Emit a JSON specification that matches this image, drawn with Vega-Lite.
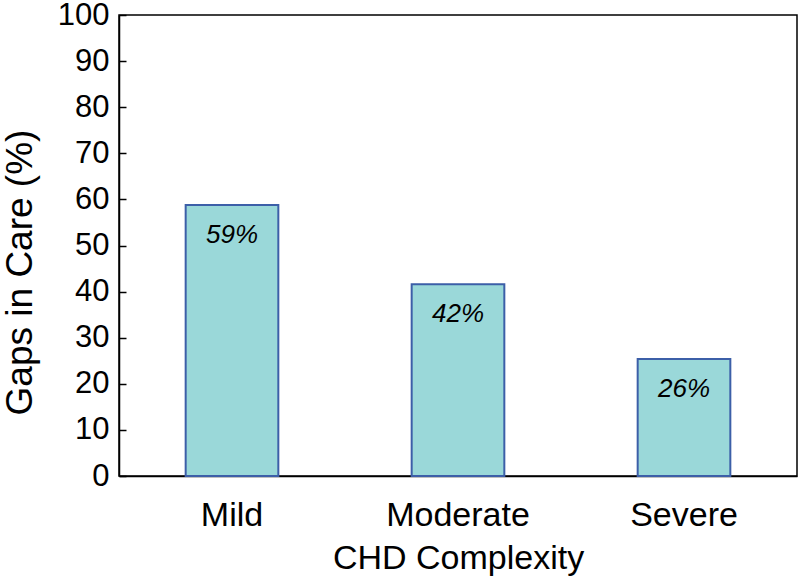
{
  "$schema": "https://vega.github.io/schema/vega-lite/v6.json",
  "autosize": {"type": "none"},
  "padding": {"left": 119, "top": 15, "right": 3, "bottom": 106},
  "width": 678,
  "height": 461,
  "background": "white",
  "config": {
    "font": "Liberation Sans",
    "view": {"stroke": "black", "strokeWidth": 1.5}
  },
  "data": {
    "values": [
      {"complexity": "Mild", "gaps": 58.8, "label": "59%"},
      {"complexity": "Moderate", "gaps": 41.6, "label": "42%"},
      {"complexity": "Severe", "gaps": 25.4, "label": "26%"}
    ]
  },
  "encoding": {
    "x": {
      "field": "complexity",
      "type": "nominal",
      "sort": null,
      "scale": {"paddingInner": 0.59, "paddingOuter": 0.295},
      "axis": {
        "title": "CHD Complexity",
        "titleFont": "Liberation Sans",
        "titleFontSize": 34,
        "titleFontWeight": "normal",
        "titleColor": "black",
        "titlePadding": 9,
        "labelFontSize": 34,
        "labelColor": "black",
        "labelAngle": 0,
        "labelPadding": 22,
        "ticks": false,
        "domainColor": "black",
        "domainWidth": 1.5
      }
    }
  },
  "layer": [
    {
      "mark": {"type": "bar", "fill": "#9ad8d9", "stroke": "#3c5fa8", "strokeWidth": 2},
      "encoding": {
        "y": {
          "field": "gaps",
          "type": "quantitative",
          "scale": {"domain": [0, 100], "nice": false},
          "axis": {
            "title": "Gaps in Care (%)",
            "titleFont": "Liberation Sans",
            "titleFontSize": 37,
            "titleFontWeight": "normal",
            "titleColor": "black",
            "titleX": -80,
            "titleY": 257,
            "values": [0, 10, 20, 30, 40, 50, 60, 70, 80, 90, 100],
            "labelFontSize": 31,
            "labelColor": "black",
            "labelPadding": 17,
            "tickSize": -7,
            "tickColor": "black",
            "tickWidth": 1.5,
            "grid": false,
            "domainColor": "black",
            "domainWidth": 1.5
          }
        }
      }
    },
    {
      "mark": {"type": "text", "baseline": "top", "dy": 17, "fontSize": 26, "fontStyle": "italic", "color": "black"},
      "encoding": {
        "y": {"field": "gaps", "type": "quantitative"},
        "text": {"field": "label"}
      }
    }
  ]
}
